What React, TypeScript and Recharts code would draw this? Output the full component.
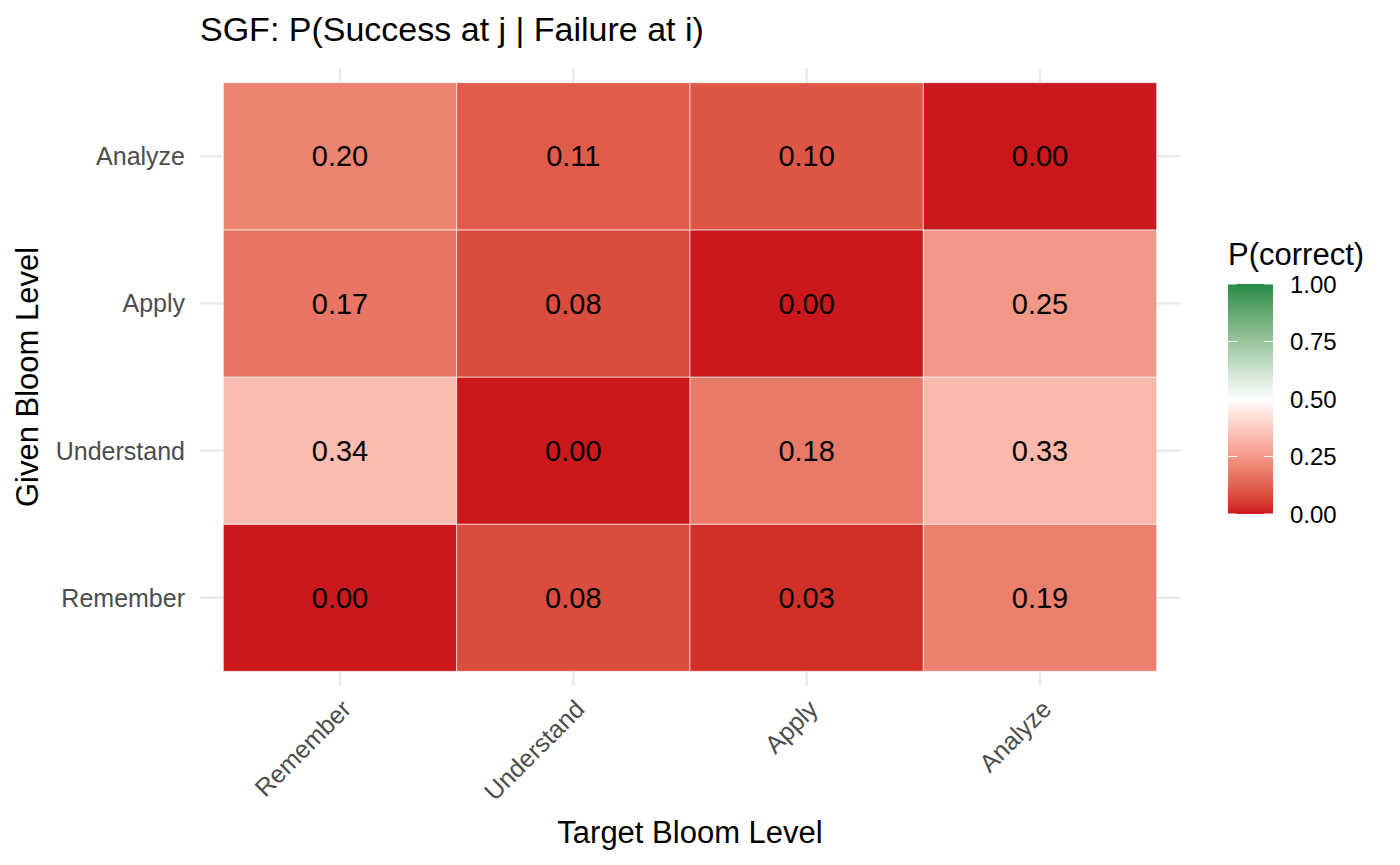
import * as React from 'react'
import { CartesianGrid, Scatter, ScatterChart, XAxis, YAxis } from 'recharts'

// DATA

const targetLevels = ['Remember', 'Understand', 'Apply', 'Analyze']
const givenLevels = ['Remember', 'Understand', 'Apply', 'Analyze'] // bottom to top

const rememberRow = [0.00, 0.08, 0.03, 0.19]
const understandRow = [0.34, 0.00, 0.18, 0.33]
const applyRow = [0.17, 0.08, 0.00, 0.25]
const analyzeRow = [0.20, 0.11, 0.10, 0.00]

const legendTicks = [0, 0.25, 0.5, 0.75, 1]

const rows = [rememberRow, understandRow, applyRow, analyzeRow]

const tiles = rows.flatMap((row, gi) => row.map((value, ti) => ({ x: ti + 1, y: gi + 1, value })))

// LAYOUT

const W = 1400
const H = 865
const PLOT_LEFT = 200
const PLOT_RIGHT = 1180
const PLOT_TOP = 68
const PLOT_BOTTOM = 686
const DOMAIN: [number, number] = [0.4, 4.6]
const CELL_W = (PLOT_RIGHT - PLOT_LEFT) / (DOMAIN[1] - DOMAIN[0])
const CELL_H = (PLOT_BOTTOM - PLOT_TOP) / (DOMAIN[1] - DOMAIN[0])

const FONT = '"Liberation Sans", Arial, Helvetica, sans-serif'

// COLOURS (gradient2 in Lab: low red, mid white at 0.5, high green)

const LOW = '#CB181D'
const MID = '#FFFFFF'
const HIGH = '#238B45'

function hexToRgb(hex: string) {
    const n = parseInt(hex.slice(1), 16)
    return [(n >> 16) & 255, (n >> 8) & 255, n & 255]
}

function toLab(hex: string) {
    const lin = hexToRgb(hex).map(c => {
        const v = c / 255
        return v <= 0.04045 ? v / 12.92 : Math.pow((v + 0.055) / 1.055, 2.4)
    })
    const X = (0.4124 * lin[0] + 0.3576 * lin[1] + 0.1805 * lin[2]) / 0.95047
    const Y = 0.2126 * lin[0] + 0.7152 * lin[1] + 0.0722 * lin[2]
    const Z = (0.0193 * lin[0] + 0.1192 * lin[1] + 0.9505 * lin[2]) / 1.08883
    const f = (t: number) => (t > 0.008856 ? Math.cbrt(t) : 7.787 * t + 16 / 116)
    const fx = f(X), fy = f(Y), fz = f(Z)
    return [116 * fy - 16, 500 * (fx - fy), 200 * (fy - fz)]
}

function fromLab(lab: number[]) {
    const fy = (lab[0] + 16) / 116
    const fx = fy + lab[1] / 500
    const fz = fy - lab[2] / 200
    const inv = (t: number) => (t * t * t > 0.008856 ? t * t * t : (t - 16 / 116) / 7.787)
    const X = inv(fx) * 0.95047, Y = inv(fy), Z = inv(fz) * 1.08883
    const r = 3.2406 * X - 1.5372 * Y - 0.4986 * Z
    const g = -0.9689 * X + 1.8758 * Y + 0.0415 * Z
    const b = 0.0557 * X - 0.2040 * Y + 1.0570 * Z
    const out = [r, g, b].map(v => {
        const c = v <= 0.0031308 ? 12.92 * v : 1.055 * Math.pow(v, 1 / 2.4) - 0.055
        return Math.max(0, Math.min(255, Math.round(c * 255)))
    })
    return `rgb(${out[0]},${out[1]},${out[2]})`
}

const lowLab = toLab(LOW)
const midLab = toLab(MID)
const highLab = toLab(HIGH)

function fillFor(v: number) {
    const [a, b, t] = v < 0.5 ? [lowLab, midLab, v / 0.5] : [midLab, highLab, (v - 0.5) / 0.5]
    return fromLab(a.map((c, i) => c + (b[i] - c) * t))
}

// SHAPES

const Tile = (props: any) => {
    const { cx, cy, payload } = props
    return (
        <g>
            <rect x={cx - CELL_W / 2} y={cy - CELL_H / 2} width={CELL_W} height={CELL_H} fill={fillFor(payload.value)} stroke='#fff' strokeOpacity={0.6} strokeWidth={1}/>
            <text x={cx} y={cy} dy='0.35em' textAnchor='middle' fontSize={29} fill='#000' fontFamily={FONT}>{payload.value.toFixed(2)}</text>
        </g>
    )
}

const XTick = (props: any) => {
    const { x, y, payload } = props
    return (
        <g transform={`translate(${x},${y})`}>
            <text textAnchor='end' transform='rotate(-45)' dy='0.72em' fontSize={25} fill='#4D4D4D' fontFamily={FONT}>{targetLevels[payload.value - 1]}</text>
        </g>
    )
}

const YTick = (props: any) => {
    const { x, y, payload } = props
    return <text x={x} y={y} dy='0.36em' textAnchor='end' fontSize={25} fill='#4D4D4D' fontFamily={FONT}>{givenLevels[payload.value - 1]}</text>
}

// LEGEND

const BAR_X = 1228
const BAR_W = 45
const BAR_TOP = 284
const BAR_BOTTOM = 514

const ColourBar = () => {
    const yFor = (v: number) => BAR_BOTTOM - (BAR_BOTTOM - BAR_TOP) * v
    const stops = Array.from({ length: 21 }, (_, i) => i / 20)
    return (
        <g>
            <defs>
                <linearGradient id='pcorrect' x1='0' y1='1' x2='0' y2='0'>
                    {stops.map(s => <stop key={s} offset={s} stopColor={fillFor(s)}/>)}
                </linearGradient>
            </defs>
            <text x={BAR_X} y={265} fontSize={31} fill='#000' fontFamily={FONT}>P(correct)</text>
            <rect x={BAR_X} y={BAR_TOP} width={BAR_W} height={BAR_BOTTOM - BAR_TOP} fill='url(#pcorrect)'/>
            {legendTicks.map(t => (
                <g key={t}>
                    <line x1={BAR_X} x2={BAR_X + 9} y1={yFor(t)} y2={yFor(t)} stroke='#fff' strokeWidth={1}/>
                    <line x1={BAR_X + BAR_W - 9} x2={BAR_X + BAR_W} y1={yFor(t)} y2={yFor(t)} stroke='#fff' strokeWidth={1}/>
                    <text x={1290} y={yFor(t)} dy='0.36em' fontSize={24} fill='#000' fontFamily={FONT}>{t.toFixed(2)}</text>
                </g>
            ))}
        </g>
    )
}

export default function App() {
    return (
        <div style={{ position: 'absolute', left: 0, top: 0, width: W, height: H, background: '#fff', fontFamily: FONT }}>
            <ScatterChart width={W} height={H} margin={{ top: PLOT_TOP, right: W - PLOT_RIGHT, bottom: 0, left: 0 }}>
                <CartesianGrid stroke='#EBEBEB' strokeWidth={2.5} syncWithTicks={true}/>
                <XAxis dataKey='x' type='number' domain={DOMAIN} ticks={[1, 2, 3, 4]} height={H - PLOT_BOTTOM} tickSize={0} tickMargin={12} axisLine={false} tickLine={false} tick={<XTick/>} interval={0}/>
                <YAxis dataKey='y' type='number' domain={DOMAIN} ticks={[1, 2, 3, 4]} width={PLOT_LEFT} tickSize={0} tickMargin={15} axisLine={false} tickLine={false} tick={<YTick/>} interval={0}/>
                <Scatter data={tiles} shape={<Tile/>} isAnimationActive={false}/>
            </ScatterChart>
            <svg width={W} height={H} style={{ position: 'absolute', left: 0, top: 0, pointerEvents: 'none' }}>
                <text x={200} y={41} fontSize={34} fill='#000' fontFamily={FONT}>SGF: P(Success at j | Failure at i)</text>
                <text x={(PLOT_LEFT + PLOT_RIGHT) / 2} y={843} textAnchor='middle' fontSize={31} fill='#000' fontFamily={FONT}>Target Bloom Level</text>
                <text transform={`translate(38,${(PLOT_TOP + PLOT_BOTTOM) / 2}) rotate(-90)`} textAnchor='middle' fontSize={31} fill='#000' fontFamily={FONT}>Given Bloom Level</text>
                <ColourBar/>
            </svg>
        </div>
    )
}
